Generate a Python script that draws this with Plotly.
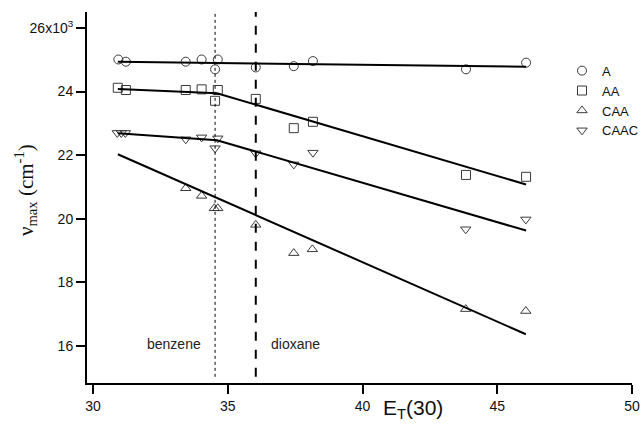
import plotly.graph_objects as go

# ---- data (E_T(30), nu_max in cm^-1) ----
a_x = [30.94, 31.22, 33.44, 34.03, 34.53, 34.63, 36.04, 37.45, 38.16, 43.84, 46.07]
a_y = [25010, 24940, 24940, 25010, 24700, 25010, 24760, 24800, 24960, 24700, 24910]

aa_x = [30.92, 31.22, 33.44, 34.03, 34.63, 34.53, 36.04, 37.45, 38.16, 43.84, 46.07]
aa_y = [24120, 24050, 24050, 24070, 24050, 23710, 23770, 22850, 23050, 21380, 21320]

caa_x = [33.44, 34.03, 34.50, 34.63, 36.04, 37.45, 38.14, 43.83, 46.06]
caa_y = [20960, 20720, 20330, 20330, 19810, 18920, 19040, 17160, 17100]

caac_x = [30.90, 31.05, 31.20, 33.44, 34.03, 34.63, 34.53, 36.04, 37.45, 38.16, 43.83, 46.06]
caac_y = [22700, 22700, 22700, 22500, 22560, 22530, 22220, 22060, 21710, 22080, 19670, 19980]

# fitted lines
fit_a_x = [30.92, 46.07]
fit_a_y = [24940, 24780]
fit_aa_x = [30.92, 34.60, 46.07]
fit_aa_y = [24080, 23950, 21080]
fit_caa_x = [30.92, 46.06]
fit_caa_y = [22030, 16370]
fit_caac_x = [30.92, 34.60, 46.07]
fit_caac_y = [22690, 22470, 19630]

solvent_names = ["benzene", "dioxane"]
solvent_et = [34.53, 36.04]
solvent_label_x = [33.0, 37.53]

x_ticks = [30, 35, 40, 45, 50]
y_ticks = [16000, 18000, 20000, 22000, 24000, 26000]
y_ticktext = ["16", "18", "20", "22", "24", "26x10<sup>3</sup>"]

mcol = "#3a3a3a"
fig = go.Figure()

series = [
    ("A", a_x, a_y, "circle-open"),
    ("AA", aa_x, aa_y, "square-open"),
    ("CAA", caa_x, caa_y, "triangle-up-open"),
    ("CAAC", caac_x, caac_y, "triangle-down-open"),
]
for name, xs, ys, sym in series:
    fig.add_trace(go.Scatter(
        x=xs, y=ys, mode="markers", name=name,
        marker=dict(symbol=sym, size=9, color=mcol, line=dict(width=1, color=mcol)),
    ))

for xs, ys in [(fit_a_x, fit_a_y), (fit_aa_x, fit_aa_y), (fit_caa_x, fit_caa_y), (fit_caac_x, fit_caac_y)]:
    fig.add_trace(go.Scatter(x=xs, y=ys, mode="lines", showlegend=False,
                             line=dict(color="black", width=2), hoverinfo="skip"))

# solvent markers
fig.add_shape(type="line", xref="x", yref="y", x0=solvent_et[0], x1=solvent_et[0],
              y0=15030, y1=26500, line=dict(color="black", width=1, dash="dot"))
fig.add_shape(type="line", xref="x", yref="y", x0=solvent_et[1], x1=solvent_et[1],
              y0=15030, y1=26500, line=dict(color="black", width=2, dash="dash"))
for nm, lx in zip(solvent_names, solvent_label_x):
    fig.add_annotation(x=lx, y=16060, xref="x", yref="y", text=nm, showarrow=False,
                       font=dict(family="Liberation Sans, Arial", size=14, color="#222"))

# axis titles
fig.add_annotation(x=(413 - 87) / 545, y=-(409 - 383) / 371, xref="paper", yref="paper",
                   text="E<sub>T</sub>(30)", showarrow=False, xanchor="center", yanchor="middle",
                   font=dict(family="Liberation Sans, Arial", size=21, color="#111"))
fig.add_annotation(x=-(87 - 25) / 545, y=0.52, xref="paper", yref="paper",
                   text="ν<sub>max</sub> (cm<sup>-1</sup>)", textangle=-90, showarrow=False,
                   xanchor="center", yanchor="middle",
                   font=dict(family="Liberation Serif, Times New Roman", size=21, color="#111"))

fig.update_layout(
    width=644, height=425,
    margin=dict(l=87, r=12, t=12, b=42, autoexpand=False),
    paper_bgcolor="white", plot_bgcolor="white",
    showlegend=True,
    legend=dict(xref="container", yref="container", x=1.0, y=0.869,
                xanchor="right", yanchor="top", bgcolor="rgba(0,0,0,0)",
                font=dict(family="Liberation Sans, Arial", size=13, color="#111"),
                tracegroupgap=0, itemwidth=30),
    font=dict(family="Liberation Sans, Arial", size=14, color="#111"),
)
fig.update_xaxes(range=[29.777, 50], tickvals=x_ticks, ticks="outside", ticklen=9,
                 tickwidth=1.5, tickcolor="black", showline=True, linecolor="black",
                 linewidth=2, showgrid=False, zeroline=False, mirror=False,
                 tickfont=dict(size=14))
fig.update_yaxes(range=[14836, 26503], tickvals=y_ticks, ticktext=y_ticktext, ticks="outside",
                 ticklen=9, tickwidth=1.5, tickcolor="black", showline=True, linecolor="black",
                 linewidth=2, showgrid=False, zeroline=False, mirror=False,
                 tickfont=dict(size=14))

fig.write_html("out.html")
